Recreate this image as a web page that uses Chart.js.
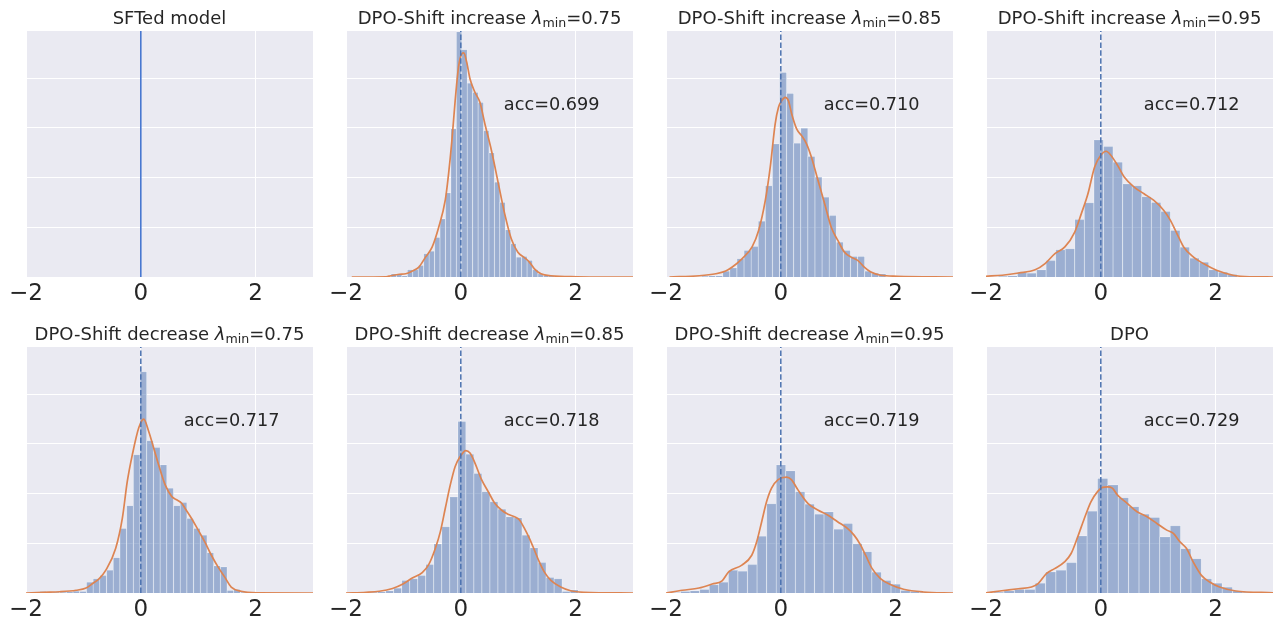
<!DOCTYPE html>
<html>
<head>
<meta charset="utf-8">
<script src="https://cdn.jsdelivr.net/npm/chart.js@4.4.1/dist/chart.umd.min.js"></script>
<style>
  html, body { margin: 0; padding: 0; background: #fff; overflow: hidden; }
  #wrap { position: relative; width: 1275px; height: 629px; }
  #wrap canvas { position: absolute; }
</style>
</head>
<body>
<div id="wrap"></div>
<script>
// shared axes
const xMin = -2, xMax = 3;
const xTicks = [-2, 0, 2];
const yMax = 0.99;
const yGrid = [0.2, 0.4, 0.6, 0.8];

// panel texts (titles with a lambda get the subscript drawn by the plugin)
const titleText = ['SFTed model', 'DPO-Shift increase ', 'DPO-Shift increase ', 'DPO-Shift increase ',
                   'DPO-Shift decrease ', 'DPO-Shift decrease ', 'DPO-Shift decrease ', 'DPO'];
const lambdaMin = [null, '0.75', '0.85', '0.95', '0.75', '0.85', '0.95', null];
const accText = [null, 'acc=0.699', 'acc=0.710', 'acc=0.712', 'acc=0.717', 'acc=0.718', 'acc=0.719', 'acc=0.729'];

// histograms: first bin edge, bin width, bar heights (density)
const incr075Start = -1.2155, incr075Width = 0.0948;
const incr075Heights = [0.013, 0.013, 0.005, 0.03, 0.03, 0.047, 0.094, 0.104, 0.16, 0.234, 0.339, 0.596, 0.987,
  0.915, 0.78, 0.743, 0.703, 0.589, 0.5, 0.382, 0.301, 0.19, 0.134, 0.08, 0.083, 0.067, 0.03, 0.013, 0.007, 0.005, 0.003];
const incr075KdeX = [-1.9, -1.3, -1.22, -1.07, -0.96, -0.845, -0.73, -0.615, -0.5, -0.385, -0.27, -0.213, -0.155, -0.098,
  -0.04, 0.017, 0.052, 0.103, 0.161, 0.247, 0.333, 0.42, 0.534, 0.649, 0.764, 0.879, 0.994, 1.109, 1.195, 1.282, 1.397, 1.569, 2.03, 2.49, 3.0];
const incr075KdeY = [0, 0.001, 0.005, 0.011, 0.013, 0.024, 0.04, 0.08, 0.12, 0.2, 0.31, 0.415, 0.55, 0.71,
  0.845, 0.898, 0.902, 0.864, 0.797, 0.743, 0.703, 0.616, 0.509, 0.382, 0.255, 0.154, 0.1, 0.078, 0.06, 0.033, 0.013, 0.005, 0.001, 0, 0];

const incr085Start = -1.382, incr085Width = 0.1236;
const incr085Heights = [0.003, 0.005, 0.005, 0.024, 0.037, 0.074, 0.107, 0.123, 0.225, 0.368, 0.536, 0.824, 0.739,
  0.539, 0.599, 0.486, 0.402, 0.322, 0.248, 0.141, 0.107, 0.083, 0.083, 0.024, 0.016, 0.013];
const incr085KdeX = [-1.94, -1.42, -1.132, -0.96, -0.845, -0.672, -0.5, -0.385, -0.27, -0.184, -0.098, -0.04, 0.017, 0.075,
  0.132, 0.19, 0.276, 0.362, 0.448, 0.534, 0.649, 0.764, 0.879, 0.994, 1.109, 1.224, 1.339, 1.454, 1.569, 1.741, 2.029, 3.0];
const incr085KdeY = [0, 0.005, 0.013, 0.024, 0.04, 0.074, 0.121, 0.188, 0.308, 0.442, 0.616, 0.683, 0.71, 0.723,
  0.71, 0.656, 0.596, 0.569, 0.536, 0.482, 0.388, 0.295, 0.2, 0.147, 0.1, 0.08, 0.067, 0.04, 0.02, 0.007, 0.003, 0];

const incr095Start = -1.787, incr095Width = 0.1667;
const incr095Heights = [0.003, 0.005, 0.02, 0.016, 0.029, 0.067, 0.11, 0.114, 0.232, 0.299, 0.552, 0.526, 0.462,
  0.375, 0.368, 0.324, 0.301, 0.264, 0.188, 0.12, 0.076, 0.06, 0.029, 0.02, 0.011];
const incr095KdeX = [-2.0, -1.718, -1.431, -1.144, -0.971, -0.799, -0.626, -0.454, -0.339, -0.224, -0.109, 0.006, 0.092,
  0.178, 0.293, 0.408, 0.58, 0.753, 0.925, 1.098, 1.213, 1.328, 1.443, 1.615, 1.787, 2.017, 2.305, 2.592, 3.0];
const incr095KdeY = [0.003, 0.007, 0.016, 0.029, 0.054, 0.094, 0.121, 0.181, 0.255, 0.335, 0.442, 0.492, 0.506,
  0.489, 0.449, 0.402, 0.362, 0.335, 0.308, 0.268, 0.228, 0.174, 0.121, 0.08, 0.054, 0.027, 0.007, 0.001, 0];

const decr075Start = -1.764, decr075Width = 0.1167;
const decr075Heights = [0.007, 0.003, 0.004, 0.004, 0.005, 0.008, 0.007, 0.044, 0.058, 0.071, 0.092, 0.143, 0.26, 0.352,
  0.557, 0.891, 0.613, 0.586, 0.516, 0.422, 0.352, 0.365, 0.3, 0.26, 0.233, 0.163, 0.109, 0.105, 0.011, 0.015, 0.004, 0.002];
const decr075KdeX = [-2.0, -1.701, -1.414, -1.126, -0.954, -0.839, -0.724, -0.609, -0.437, -0.322, -0.236, -0.149, -0.034,
  0.052, 0.138, 0.224, 0.31, 0.425, 0.54, 0.626, 0.713, 0.77, 0.885, 1.0, 1.115, 1.23, 1.345, 1.46, 1.575, 1.747, 2.034, 3.0];
const decr075KdeY = [0, 0.003, 0.005, 0.011, 0.02, 0.038, 0.058, 0.092, 0.18, 0.3, 0.448, 0.555, 0.666,
  0.7, 0.65, 0.584, 0.516, 0.435, 0.388, 0.375, 0.361, 0.341, 0.3, 0.253, 0.206, 0.152, 0.105, 0.065, 0.024, 0.007, 0.001, 0];

const decr085Start = -1.7276, decr085Width = 0.1397;
const decr085Heights = [0.001, 0.003, 0.005, 0.009, 0.02, 0.051, 0.058, 0.071, 0.115, 0.198, 0.267, 0.387, 0.691, 0.559,
  0.482, 0.408, 0.368, 0.338, 0.307, 0.303, 0.233, 0.182, 0.123, 0.063, 0.058, 0.007, 0.013, 0.004];
const decr085KdeX = [-2.0, -1.649, -1.42, -1.19, -1.017, -0.845, -0.672, -0.557, -0.443, -0.356, -0.27, -0.184, -0.098, -0.011,
  0.086, 0.161, 0.247, 0.362, 0.477, 0.592, 0.707, 0.822, 0.937, 1.023, 1.109, 1.195, 1.282, 1.368, 1.454, 1.569, 1.741, 1.914, 2.144, 3.0];
const decr085KdeY = [0, 0.003, 0.007, 0.018, 0.035, 0.06, 0.082, 0.115, 0.18, 0.247, 0.341, 0.434, 0.509, 0.549,
  0.573, 0.563, 0.523, 0.456, 0.408, 0.361, 0.334, 0.317, 0.307, 0.294, 0.26, 0.22, 0.173, 0.125, 0.085, 0.051, 0.024, 0.009, 0.003, 0];

const decr095Start = -1.914, decr095Width = 0.1667;
const decr095Heights = [0.001, 0.007, 0.009, 0.015, 0.034, 0.044, 0.092, 0.088, 0.115, 0.229, 0.36, 0.516, 0.492,
  0.408, 0.358, 0.318, 0.327, 0.257, 0.28, 0.199, 0.167, 0.084, 0.051, 0.036, 0.011, 0.007, 0.004];
const decr095KdeX = [-2.0, -1.713, -1.425, -1.195, -1.023, -0.908, -0.678, -0.506, -0.42, -0.333, -0.247, -0.161, -0.046,
  0.098, 0.184, 0.299, 0.471, 0.644, 0.816, 0.989, 1.161, 1.276, 1.391, 1.477, 1.592, 1.736, 1.908, 2.138, 2.483, 3.0];
const decr095KdeY = [0, 0.011, 0.02, 0.036, 0.049, 0.085, 0.112, 0.152, 0.206, 0.287, 0.368, 0.422, 0.456,
  0.466, 0.456, 0.415, 0.361, 0.334, 0.314, 0.287, 0.26, 0.233, 0.193, 0.152, 0.098, 0.058, 0.034, 0.015, 0.004, 0];

const dpoStart = -1.868, dpoWidth = 0.181;
const dpoHeights = [0.004, 0.009, 0.015, 0.015, 0.04, 0.085, 0.092, 0.123, 0.23, 0.33, 0.461, 0.435, 0.384,
  0.348, 0.318, 0.305, 0.226, 0.271, 0.179, 0.139, 0.058, 0.04, 0.024, 0.009, 0.004];
const dpoKdeX = [-2.0, -1.724, -1.437, -1.207, -1.092, -0.948, -0.805, -0.632, -0.517, -0.402, -0.287, -0.172, -0.057,
  0.029, 0.115, 0.201, 0.287, 0.46, 0.632, 0.805, 0.977, 1.149, 1.264, 1.379, 1.494, 1.609, 1.753, 1.897, 2.069, 2.356, 3.0];
const dpoKdeY = [0.001, 0.009, 0.017, 0.024, 0.038, 0.078, 0.098, 0.125, 0.159, 0.226, 0.3, 0.367, 0.408,
  0.425, 0.427, 0.422, 0.395, 0.361, 0.327, 0.307, 0.28, 0.253, 0.24, 0.206, 0.179, 0.125, 0.071, 0.044, 0.024, 0.008, 0.001];

const hists = [
  null,
  [incr075Start, incr075Width, incr075Heights, incr075KdeX, incr075KdeY],
  [incr085Start, incr085Width, incr085Heights, incr085KdeX, incr085KdeY],
  [incr095Start, incr095Width, incr095Heights, incr095KdeX, incr095KdeY],
  [decr075Start, decr075Width, decr075Heights, decr075KdeX, decr075KdeY],
  [decr085Start, decr085Width, decr085Heights, decr085KdeX, decr085KdeY],
  [decr095Start, decr095Width, decr095Heights, decr095KdeX, decr095KdeY],
  [dpoStart, dpoWidth, dpoHeights, dpoKdeX, dpoKdeY],
];

// layout (pixels of the plot areas)
const colLeft = [26, 346, 666, 986];
const rowTop = [31, 347];
const plotW = 287, plotH = 246;
const padL = 20, padR = 2, padT = 31, axisH = 40;
const FONT = "'DejaVu Sans', 'Liberation Sans', sans-serif";
const TEXT = '#262626';

const decor = {
  id: 'decor',
  beforeDraw(chart) {
    const a = chart.chartArea, ctx = chart.ctx;
    ctx.save();
    ctx.fillStyle = '#eaeaf2';
    ctx.fillRect(a.left, a.top, a.right - a.left, a.bottom - a.top);
    ctx.restore();
  },
  afterDraw(chart, args, o) {
    const a = chart.chartArea, ctx = chart.ctx;
    ctx.save();
    ctx.fillStyle = TEXT;
    ctx.textBaseline = 'alphabetic';
    // title, possibly with lambda_min
    const pieces = [[o.title, '18px ' + FONT, 0]];
    if (o.lam) {
      pieces.push(['\u03bb', 'italic 18px ' + FONT, 0]);
      pieces.push(['min', '12.6px ' + FONT, 3]);
      pieces.push(['=' + o.lam, '18px ' + FONT, 0]);
    }
    let total = 0;
    pieces.forEach(p => { ctx.font = p[1]; p.push(ctx.measureText(p[0]).width); total += p[3]; });
    let x = (a.left + a.right) / 2 - total / 2;
    const base = a.top - 7;
    ctx.textAlign = 'left';
    pieces.forEach(p => { ctx.font = p[1]; ctx.fillText(p[0], x, base + p[2]); x += p[3]; });
    // accuracy label
    if (o.acc) {
      ctx.font = '17.7px ' + FONT;
      ctx.fillText(o.acc, a.left + 0.55 * (a.right - a.left), a.top + 0.321 * (a.bottom - a.top));
    }
    ctx.restore();
  }
};

const wrap = document.getElementById('wrap');

for (let i = 0; i < 8; i++) {
  const col = i % 4, row = Math.floor(i / 4);
  const cv = document.createElement('canvas');
  const w = padL + plotW + padR, h = padT + plotH + axisH;
  cv.width = w; cv.height = h;
  cv.style.left = (colLeft[col] - padL) + 'px';
  cv.style.top = (rowTop[row] - padT) + 'px';
  cv.style.width = w + 'px'; cv.style.height = h + 'px';
  wrap.appendChild(cv);

  const datasets = [];
  const hd = hists[i];
  if (hd) {
    const [start, width, heights, kx, ky] = hd;
    datasets.push({
      type: 'line', order: 0,
      data: [{ x: 0, y: 0 }, { x: 0, y: yMax }],
      borderColor: '#4c72b0', borderWidth: 1.5, borderDash: [5.5, 2.4],
      pointRadius: 0, tension: 0
    });
    datasets.push({
      type: 'line', order: 1,
      data: kx.map((v, k) => ({ x: v, y: ky[k] })),
      borderColor: '#dd8452', borderWidth: 1.7, pointRadius: 0,
      cubicInterpolationMode: 'monotone'
    });
    datasets.push({
      type: 'bar', order: 2,
      data: heights.map((v, k) => ({ x: start + (k + 0.5) * width, y: v })),
      backgroundColor: 'rgba(76,114,176,0.5)',
      borderColor: 'rgba(255,255,255,0.85)',
      borderWidth: { left: 0.5, right: 0.5, top: 0.5, bottom: 0 },
      barPercentage: 1, categoryPercentage: 1
    });
  } else {
    // SFT model: all margins at zero
    datasets.push({
      type: 'line',
      data: [{ x: 0, y: 0 }, { x: 0, y: yMax }],
      borderColor: '#4878d0', borderWidth: 1.6, pointRadius: 0, tension: 0
    });
  }

  new Chart(cv, {
    type: 'bar',
    data: { datasets },
    plugins: [decor],
    options: {
      responsive: false,
      animation: false,
      devicePixelRatio: 1,
      events: [],
      layout: { padding: { left: padL, right: padR, top: padT, bottom: 0 } },
      plugins: {
        legend: { display: false },
        tooltip: { enabled: false },
        decor: { title: titleText[i], lam: lambdaMin[i], acc: accText[i] }
      },
      scales: {
        x: {
          type: 'linear', min: xMin, max: xMax, offset: false,
          afterBuildTicks: s => { s.ticks = xTicks.map(v => ({ value: v })); },
          afterFit: s => { s.height = axisH; },
          grid: { color: '#ffffff', lineWidth: 1, drawTicks: false, offset: false },
          border: { display: false },
          ticks: {
            padding: 3, color: TEXT, maxRotation: 0,
            font: { family: FONT, size: 23 },
            callback: v => v < 0 ? '\u2212' + Math.abs(v) : String(v)
          }
        },
        y: {
          min: 0, max: yMax,
          afterBuildTicks: s => { s.ticks = yGrid.map(v => ({ value: v })); },
          afterFit: s => { s.width = 0; },
          grid: { color: '#ffffff', lineWidth: 1, drawTicks: false },
          border: { display: false },
          ticks: { display: false }
        }
      }
    }
  });
}
</script>
</body>
</html>
